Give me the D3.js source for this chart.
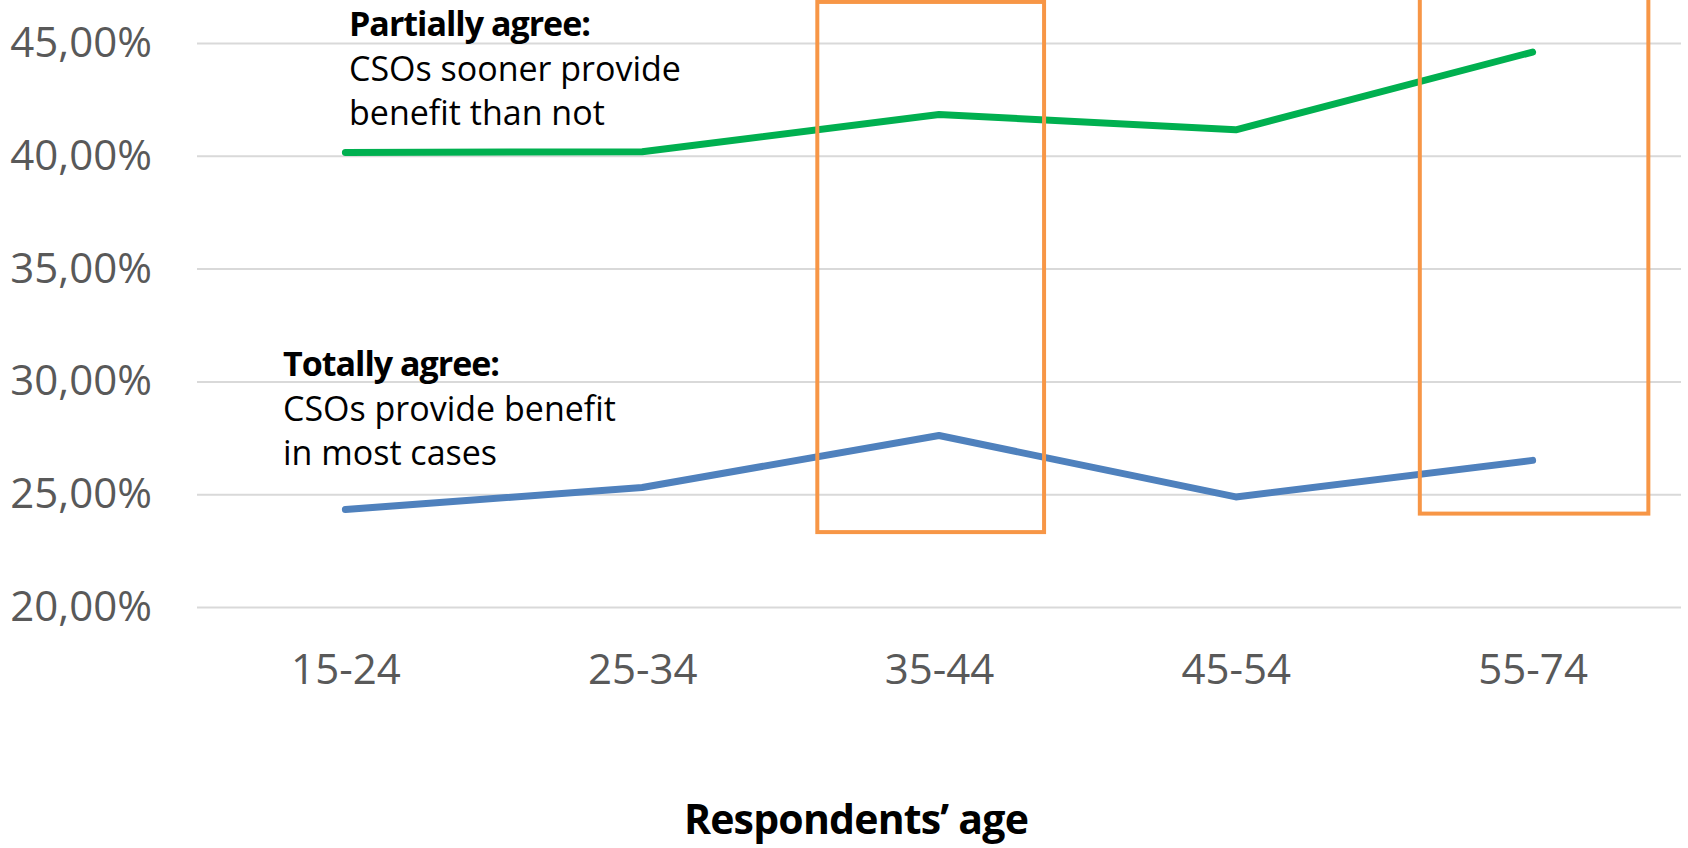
<!DOCTYPE html>
<html>
<head>
<meta charset="utf-8">
<script src="https://cdn.jsdelivr.net/npm/d3@7"></script>
<style>
  html, body { margin: 0; padding: 0; background: #fff; }
  svg { display: block; }
</style>
</head>
<body>
<svg id="chart" width="1688" height="848"></svg>
<script>
// ---- data ----
const categories = ["15-24", "25-34", "35-44", "45-54", "55-74"];
const partiallyAgree = [40.15, 40.18, 41.83, 41.15, 44.60];
const totallyAgree = [24.32, 25.30, 27.60, 24.88, 26.50];
const yTicks = [20, 25, 30, 35, 40, 45];
const xTitle = "Respondents’ age";
const partialLabel = ["Partially agree:", "CSOs sooner provide", "benefit than not"];
const totalLabel = ["Totally agree:", "CSOs provide benefit", "in most cases"];
// highlight boxes: category-index extents and value extents (percent)
const boxFrom = [1.59, 3.62];
const boxTo = [2.354, 4.39];
const boxLow = [23.32, 24.14];
const boxHigh = [46.82, 48.5];

// ---- layout ----
const svg = d3.select("#chart");
const mLeft = 197, mRight = 1681, mTop = 43, mBottom = 607;

const x = d3.scalePoint().domain(categories).range([mLeft, mRight]).padding(0.5);
const xi = d3.scaleLinear().domain([0, categories.length - 1])
  .range([x(categories[0]), x(categories[categories.length - 1])]);
const y = d3.scaleLinear().domain([20, 45]).range([mBottom, mTop]);

// gridlines + y tick labels
const yAxis = d3.axisLeft(y).tickValues(yTicks)
  .tickSize(-(mRight - mLeft)).tickPadding(45)
  .tickFormat(d => d3.format(".2f")(d).replace(".", ",") + "%");
const gy = svg.append("g").attr("transform", `translate(${mLeft},0)`).call(yAxis);
gy.select(".domain").remove();
gy.selectAll(".tick line").attr("stroke", "#d9d9d9").attr("stroke-width", 2);
gy.selectAll(".tick text")
  .attr("fill", "#595959")
  .style("font-family", "'Open Sans', sans-serif")
  .style("font-size", "42px");

// x axis labels
const xAxis = d3.axisBottom(x).tickSize(0).tickPadding(0);
const gx = svg.append("g").attr("transform", `translate(0,${mBottom})`).call(xAxis);
gx.select(".domain").remove();
gx.selectAll(".tick text")
  .attr("dy", null).attr("y", 77)
  .attr("fill", "#595959")
  .style("font-family", "'Open Sans', sans-serif")
  .style("font-size", "42px");

// lines
const line = d3.line().x((d, i) => x(categories[i])).y(d => y(d));
svg.append("path").datum(totallyAgree)
  .attr("d", line).attr("fill", "none")
  .attr("stroke", "#4f81bd").attr("stroke-width", 7)
  .attr("stroke-linecap", "round").attr("stroke-linejoin", "round");
svg.append("path").datum(partiallyAgree)
  .attr("d", line).attr("fill", "none")
  .attr("stroke", "#00b050").attr("stroke-width", 7)
  .attr("stroke-linecap", "round").attr("stroke-linejoin", "round");

// highlight boxes
boxFrom.forEach((f, i) => {
  svg.append("rect")
    .attr("x", xi(f)).attr("width", xi(boxTo[i]) - xi(f))
    .attr("y", y(boxHigh[i])).attr("height", y(boxLow[i]) - y(boxHigh[i]))
    .attr("fill", "none").attr("stroke", "#f79646").attr("stroke-width", 4);
});

// annotations
function annot(lines, xPos, baseline) {
  const t = svg.append("text")
    .attr("x", xPos).attr("y", baseline)
    .style("font-family", "'Open Sans', sans-serif")
    .style("font-size", "34px").attr("fill", "#000");
  lines.forEach((s, i) => {
    t.append("tspan").attr("x", xPos).attr("dy", i === 0 ? 0 : 44.5)
      .style("font-weight", i === 0 ? "700" : "400")
      .style("letter-spacing", i === 0 ? "-1px" : "0px")
      .text(s);
  });
}
annot(partialLabel, 349, 36);
annot(totalLabel, 283, 376);

// x title
svg.append("text")
  .attr("x", 856).attr("y", 834)
  .attr("text-anchor", "middle")
  .style("font-family", "'Open Sans', sans-serif")
  .style("font-size", "41px").style("font-weight", "700")
  .style("letter-spacing", "-0.8px")
  .attr("fill", "#000")
  .text(xTitle);
</script>
</body>
</html>
